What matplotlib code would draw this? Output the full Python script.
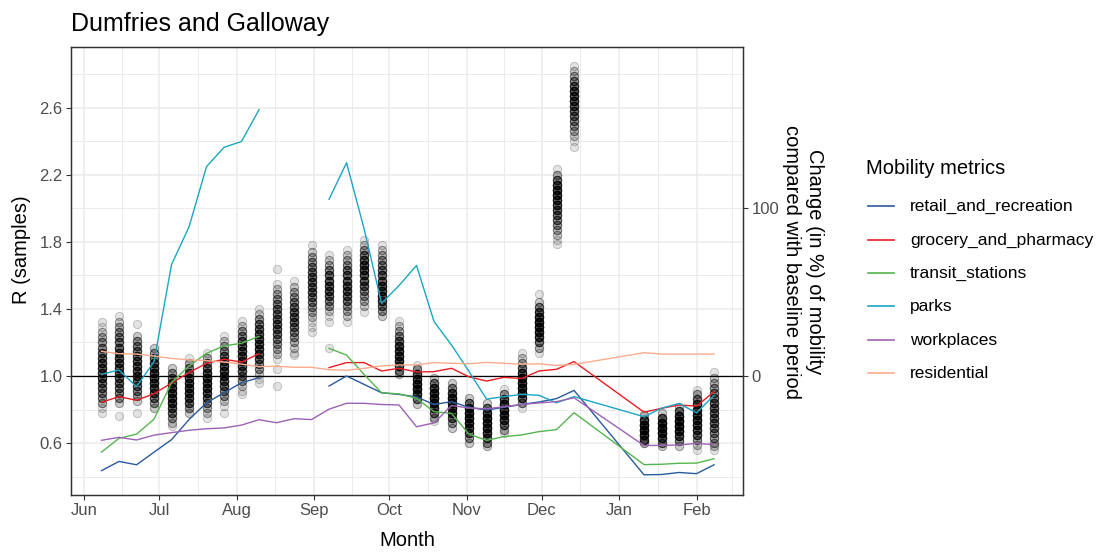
import matplotlib
matplotlib.use("Agg")
import matplotlib.pyplot as plt
import numpy as np
import pandas as pd
from matplotlib.lines import Line2D

plt.rcParams['font.family'] = ['Liberation Sans', 'DejaVu Sans']

# ---------------- data ----------------
week_dates = ["2020-06-08", "2020-06-15", "2020-06-22", "2020-06-29", "2020-07-06",
              "2020-07-13", "2020-07-20", "2020-07-27", "2020-08-03", "2020-08-10",
              "2020-08-17", "2020-08-24", "2020-08-31", "2020-09-07", "2020-09-14",
              "2020-09-21", "2020-09-28", "2020-10-05", "2020-10-12", "2020-10-19",
              "2020-10-26", "2020-11-02", "2020-11-09", "2020-11-16", "2020-11-23",
              "2020-11-30", "2020-12-07", "2020-12-14", "2021-01-11", "2021-01-18",
              "2021-01-25", "2021-02-01", "2021-02-08"]

# R samples per week: (value, number of samples near that value)
r_samples = [
    [(1.32,1),(1.29,1),(1.26,2),(1.23,3),(1.20,4),(1.17,5),(1.14,6),(1.11,7),(1.08,8),(1.05,8),(1.02,8),(0.99,8),(0.96,7),(0.93,6),(0.90,5),(0.87,4),(0.84,3),(0.81,1),(0.78,1)],
    [(1.36,1),(1.32,2),(1.29,3),(1.26,4),(1.23,5),(1.20,6),(1.17,7),(1.14,7),(1.11,8),(1.08,8),(1.05,8),(1.02,8),(0.99,7),(0.96,7),(0.93,6),(0.90,5),(0.87,4),(0.84,2),(0.76,1)],
    [(1.31,1),(1.24,2),(1.21,4),(1.18,5),(1.15,6),(1.12,7),(1.09,8),(1.06,8),(1.03,8),(1.00,8),(0.97,7),(0.94,6),(0.91,5),(0.88,4),(0.85,2),(0.78,1)],
    [(1.17,2),(1.14,4),(1.11,6),(1.08,8),(1.05,9),(1.02,10),(0.99,10),(0.96,10),(0.93,9),(0.90,8),(0.87,6),(0.84,4),(0.81,2)],
    [(1.05,2),(1.02,4),(0.99,6),(0.96,8),(0.93,10),(0.90,10),(0.87,10),(0.84,10),(0.81,8),(0.78,6),(0.75,4),(0.72,2),(0.70,1)],
    [(1.11,1),(1.08,3),(1.05,5),(1.02,7),(0.99,9),(0.96,10),(0.93,10),(0.90,10),(0.87,9),(0.84,7),(0.81,4),(0.78,2)],
    [(1.14,1),(1.11,3),(1.08,5),(1.05,7),(1.02,9),(0.99,10),(0.96,10),(0.93,10),(0.90,9),(0.87,7),(0.84,5),(0.81,3),(0.78,2),(0.75,1)],
    [(1.24,1),(1.21,2),(1.18,3),(1.15,5),(1.12,7),(1.09,8),(1.06,9),(1.03,9),(1.00,9),(0.97,8),(0.94,7),(0.91,5),(0.88,4),(0.85,2),(0.82,1),(0.78,1)],
    [(1.33,1),(1.30,2),(1.27,4),(1.24,5),(1.21,7),(1.18,8),(1.15,9),(1.12,9),(1.09,9),(1.06,8),(1.03,7),(1.00,5),(0.97,4),(0.94,2),(0.91,1),(0.89,1)],
    [(1.40,1),(1.37,2),(1.34,4),(1.31,6),(1.28,7),(1.25,8),(1.22,9),(1.19,9),(1.16,9),(1.13,8),(1.10,7),(1.07,5),(1.04,4),(1.01,2),(0.98,1),(0.96,1)],
    [(1.64,1),(1.55,1),(1.52,2),(1.49,3),(1.46,4),(1.43,5),(1.40,6),(1.37,6),(1.34,7),(1.31,7),(1.28,7),(1.25,6),(1.22,5),(1.19,4),(1.16,3),(1.13,2),(1.10,1),(1.04,1),(0.94,1)],
    [(1.57,1),(1.53,2),(1.50,3),(1.47,4),(1.44,5),(1.41,6),(1.38,7),(1.35,7),(1.32,7),(1.29,6),(1.26,5),(1.23,4),(1.20,3),(1.17,2),(1.14,1),(1.125,1)],
    [(1.78,1),(1.74,2),(1.71,3),(1.68,4),(1.65,5),(1.62,6),(1.59,7),(1.56,7),(1.53,7),(1.50,7),(1.47,6),(1.44,5),(1.41,4),(1.38,3),(1.35,2),(1.32,1),(1.29,1),(1.26,1)],
    [(1.72,1),(1.69,2),(1.66,3),(1.63,5),(1.60,7),(1.57,8),(1.54,8),(1.51,8),(1.48,7),(1.45,5),(1.42,4),(1.39,2),(1.36,1),(1.32,1),(1.17,1)],
    [(1.75,1),(1.72,2),(1.69,3),(1.66,4),(1.63,6),(1.60,7),(1.57,8),(1.54,8),(1.51,8),(1.48,7),(1.45,6),(1.42,4),(1.39,3),(1.36,2),(1.32,1)],
    [(1.81,1),(1.78,2),(1.75,4),(1.72,6),(1.69,8),(1.66,9),(1.63,9),(1.60,9),(1.57,8),(1.54,7),(1.51,5),(1.48,4),(1.45,3),(1.42,2),(1.38,1)],
    [(1.78,1),(1.75,2),(1.72,3),(1.69,4),(1.66,5),(1.63,6),(1.60,7),(1.57,8),(1.54,9),(1.51,9),(1.48,9),(1.45,8),(1.42,6),(1.39,4),(1.36,2)],
    [(1.33,1),(1.30,2),(1.27,3),(1.24,5),(1.21,7),(1.18,9),(1.15,10),(1.12,10),(1.09,10),(1.06,8),(1.03,5),(1.01,2)],
    [(1.065,1),(1.04,4),(1.01,8),(0.98,10),(0.95,12),(0.92,12),(0.89,10),(0.86,6),(0.83,2)],
    [(0.99,2),(0.96,6),(0.93,10),(0.90,12),(0.87,12),(0.84,12),(0.81,10),(0.78,6),(0.75,3),(0.73,1)],
    [(0.96,2),(0.93,5),(0.90,9),(0.87,12),(0.84,12),(0.81,12),(0.78,10),(0.75,7),(0.72,4),(0.69,2)],
    [(0.87,2),(0.84,6),(0.81,10),(0.78,12),(0.75,12),(0.72,12),(0.69,10),(0.66,7),(0.63,4),(0.60,2)],
    [(0.84,2),(0.81,6),(0.78,10),(0.75,12),(0.72,12),(0.69,12),(0.66,10),(0.63,7),(0.60,4),(0.58,2)],
    [(0.92,1),(0.89,4),(0.86,8),(0.83,12),(0.80,12),(0.77,12),(0.74,10),(0.71,7),(0.68,3),(0.66,1)],
    [(1.14,1),(1.11,2),(1.08,3),(1.05,6),(1.02,9),(0.99,11),(0.96,12),(0.93,12),(0.90,11),(0.87,8),(0.84,4),(0.81,1)],
    [(1.49,1),(1.44,2),(1.41,5),(1.38,8),(1.35,10),(1.32,12),(1.29,12),(1.26,11),(1.23,9),(1.20,6),(1.17,3),(1.14,1)],
    [(2.235,1),(2.20,3),(2.17,6),(2.14,9),(2.11,10),(2.08,10),(2.05,9),(2.02,8),(1.99,7),(1.96,6),(1.93,5),(1.90,4),(1.87,3),(1.84,2),(1.81,1),(1.79,1)],
    [(2.85,1),(2.82,2),(2.79,3),(2.76,5),(2.73,7),(2.70,9),(2.67,9),(2.64,9),(2.61,8),(2.58,7),(2.55,6),(2.52,5),(2.49,4),(2.46,3),(2.43,2),(2.40,1),(2.37,1)],
    [(0.77,3),(0.74,10),(0.71,14),(0.68,14),(0.65,12),(0.62,8),(0.60,3)],
    [(0.78,2),(0.75,8),(0.72,13),(0.69,14),(0.66,13),(0.63,10),(0.60,5),(0.58,2)],
    [(0.815,2),(0.79,6),(0.76,11),(0.73,13),(0.70,13),(0.67,12),(0.64,9),(0.61,5),(0.58,2)],
    [(0.915,1),(0.89,3),(0.86,6),(0.83,9),(0.80,11),(0.77,11),(0.74,11),(0.71,10),(0.68,9),(0.65,7),(0.62,4),(0.59,2),(0.56,1)],
    [(1.024,1),(0.99,2),(0.96,3),(0.93,4),(0.90,5),(0.87,6),(0.84,7),(0.81,7),(0.78,7),(0.75,7),(0.72,7),(0.69,6),(0.66,5),(0.63,4),(0.60,3),(0.58,2),(0.56,1)],
]

N = None
retail_and_recreation = [-56.5, -51, -53, -45.5, -38, -26, -16, -10, -4, -1, N, N, N,
                         -6, 0, -5, -10, -11, -12.5, -17, -15.3, -18.7, -20.3, -18.7, -17,
                         -15.5, -13.5, -8.6, -59, -58.8, -57.6, -58.3, -53]
grocery_and_pharmacy = [-15.7, -12.3, -14.5, -10.6, -4.2, 2, 7.6, 10, 8.3, 13.3, N, N, N,
                        5, 8, 8, 3, 4.6, 2.4, 2.6, 4.6, -0.5, -3, -0.8, -1.5,
                        3, 4, 8.6, -21.6, -19.3, -17.3, -18, -9.4]
transit_stations = [-45.4, -37.2, -34.7, -25.8, -4, 6, 13.5, 18, 19.5, 23.7, N, N, N,
                    16.5, 12.5, 1, -10, -10.7, -13.3, -21.3, -22.3, -34.7, -38.4, -36.2, -35.2,
                    -33.2, -32, -21.9, -52.9, -52.7, -52.1, -52, -49.4]
parks = [1, 3.6, -6.4, 8.5, 66.5, 89, 125, 136.5, 140, 159, N, N, N,
         105.5, 127.3, 88, 43.4, 54, 66, 32.5, 18.5, 2.7, -13.8, -12.3, -11,
         -11.5, -16, -12.3, -24.3, -19.2, -16.4, -22, -11.5]
workplaces = [-38.4, -36.6, -38.2, -35.3, -33.8, -32.4, -31.5, -31, -29.3, -26.1, -27.9, -25.5, -26,
              -19.8, -16.3, -16.3, -17, -17.3, -30.3, -28, -17.6, -19.1, -19.6, -18.3, -17,
              -16.1, -15.3, -13, -41.5, -41.4, -41.2, -40.2, -41]
residential = [14.7, 13.3, 13.1, 11.9, 10.5, 9.6, 9.2, 8.3, 7.1, 5.6, 5.8, 5.2, 5.2,
               3.8, 3.4, 4.6, 6, 6.6, 6.6, 8, 7.6, 7.3, 8.1, 7.6, 7,
               7.3, 6.3, 6.9, 13.9, 13.1, 13.1, 13.1, 13.1]

metric_names = ["retail_and_recreation", "grocery_and_pharmacy", "transit_stations",
                "parks", "workplaces", "residential"]
metric_values = [retail_and_recreation, grocery_and_pharmacy, transit_stations,
                 parks, workplaces, residential]
metric_colors = ["#2A5A9E", "#EC1C24", "#55B54E", "#1BA6C3", "#9D62B2", "#FBAB8E"]

month_ticks = ["2020-06-01", "2020-07-01", "2020-08-01", "2020-09-01", "2020-10-01",
               "2020-11-01", "2020-12-01", "2021-01-01", "2021-02-01"]
month_labels = ["Jun", "Jul", "Aug", "Sep", "Oct", "Nov", "Dec", "Jan", "Feb"]
r_ticks = [0.6, 1.0, 1.4, 1.8, 2.2, 2.6]
mob_ticks = [0, 100]

# ---------------- layout ----------------
W, H = 1103, 553
fig = plt.figure(figsize=(W / 100, H / 100), dpi=100)
pl, pr, pt, pb = 71, 743, 47, 495
ax = fig.add_axes([pl / W, 1 - pb / H, (pr - pl) / W, (pb - pt) / H])

r_lo, r_hi = 0.2896, 2.964
x_lo = pd.Timestamp("2020-05-26 19:00")
x_hi = pd.Timestamp("2021-02-19 14:00")

dates = pd.to_datetime(week_dates)
xs, ys = [], []
for d, samp in zip(dates, r_samples):
    vals = np.array([v for v, c in samp])
    cnts = np.array([c for v, c in samp])
    rep = np.repeat(vals, cnts)
    xs.extend([d] * len(rep))
    ys.extend(rep)

grid_col = "#EBEBEB"
mt = pd.to_datetime(month_ticks)
ext = list(mt) + [pd.Timestamp("2021-03-01")]
minor_x = [ext[i] + (ext[i + 1] - ext[i]) / 2 for i in range(len(ext) - 1)]
ax.set_xticks(mt)
ax.set_xticklabels(month_labels)
ax.set_xticks(minor_x, minor=True)
ax.set_yticks(r_ticks)
ax.set_yticklabels([f"{t:.1f}" for t in r_ticks])
ax.set_yticks([0.4, 0.8, 1.2, 1.6, 2.0, 2.4, 2.8], minor=True)
ax.grid(which="major", color=grid_col, lw=1.1)
ax.grid(which="minor", color=grid_col, lw=0.7)
ax.set_axisbelow(True)

ax.scatter(xs, ys, s=36, facecolors=(0, 0, 0, 0.11), edgecolors=(0, 0, 0, 0.2),
           linewidths=0.7, zorder=2)
ax.axhline(1.0, color="black", lw=0.9, zorder=3)

ax.set_xlim(x_lo, x_hi)
ax.set_ylim(r_lo, r_hi)

ax2 = ax.twinx()
for name, vals, col in zip(metric_names, metric_values, metric_colors):
    v = np.array([np.nan if x is None else x for x in vals], dtype=float)
    ax2.plot(dates, v, color=col, lw=1.0, zorder=4)
ax2.set_ylim((r_lo - 1) * 100, (r_hi - 1) * 100)
ax2.set_yticks(mob_ticks)
ax2.set_yticklabels([str(t) for t in mob_ticks])
ax2.set_xlim(x_lo, x_hi)

for a in (ax, ax2):
    for s in a.spines.values():
        s.set_color("#333333")
        s.set_linewidth(0.9)
    a.tick_params(which="major", direction="out", length=3.5, width=0.8,
                  color="#333333", labelcolor="#4D4D4D", labelsize=12, pad=2.5)
    a.tick_params(which="minor", length=0)

# ---------------- texts ----------------
fig.text(pl / W, 1 - 31 / H, "Dumfries and Galloway", fontsize=18, color="black",
         ha="left", va="baseline")
fig.text((pl + pr) / 2 / W, 1 - 540 / H, "Month", fontsize=14.5, ha="center", va="center")
fig.text(22 / W, 1 - 250 / H, "R (samples)", fontsize=14.5, rotation=90,
         ha="center", va="center")
fig.text(803 / W, 1 - 262 / H, "Change (in %) of mobility\ncompared with baseline period",
         fontsize=14.5, rotation=270, ha="center", va="center", multialignment="center",
         linespacing=1.25)

# legend
fig.text(866 / W, 1 - 168 / H, "Mobility metrics", fontsize=14.5, ha="left", va="center")
leg_y = [206, 240, 273, 306, 340, 373]
for name, col, yy in zip(metric_names, metric_colors, leg_y):
    fig.add_artist(Line2D([868 / W, 894 / W], [1 - yy / H] * 2, color=col, lw=1.2))
    fig.text(910 / W, 1 - yy / H, name, fontsize=12.5, ha="left", va="center")

fig.savefig("out.png", dpi=100)
